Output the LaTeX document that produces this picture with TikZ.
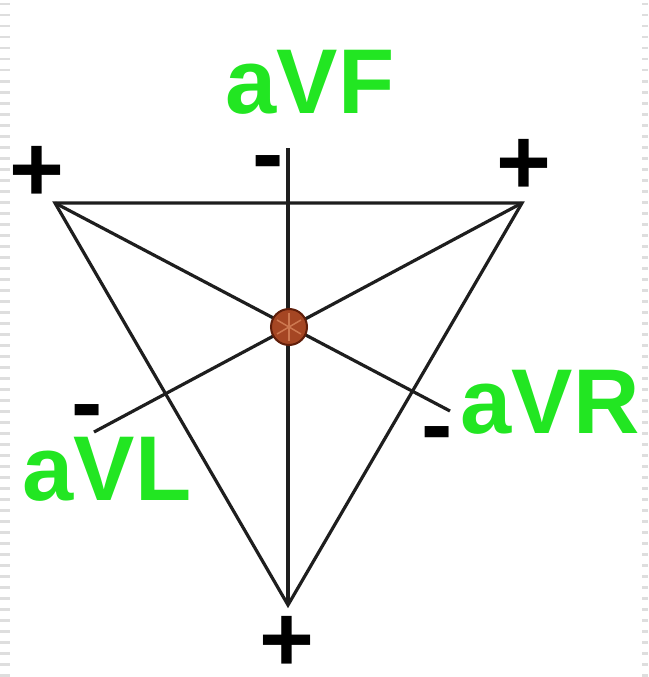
\documentclass[tikz,border=0pt]{standalone}
\usepackage{fontspec}
\usetikzlibrary{calc}
\setmainfont{Liberation Sans}
\newfontfamily\lblfont[Scale=1]{Liberation Sans Bold}
\definecolor{labgreen}{RGB}{34,230,34}
\definecolor{inkline}{RGB}{30,30,30}
\definecolor{brownfill}{RGB}{165,70,35}
\definecolor{brownedge}{RGB}{95,30,10}
\definecolor{brownspoke}{RGB}{205,120,80}
\definecolor{rulergrey}{RGB}{222,222,222}
\begin{document}
\begin{tikzpicture}[x=1pt,y=-1pt,
  ln/.style={line width=3.2pt, draw=inkline},
  lab/.style={font=\lblfont\fontsize{92}{92}\selectfont, text=labgreen, inner sep=0pt, anchor=base},
  sgn/.style={font=\lblfont\fontsize{94}{94}\selectfont, text=black, inner sep=0pt, anchor=center},
  ruler/.style={draw=rulergrey, dash pattern=on 2.5pt off 8.5pt}]
\useasboundingbox (0,0) rectangle (648,677);
% edge rulers
\draw[ruler, line width=10pt] (5,3) -- (5,677);
\draw[ruler, line width=6pt] (645,3) -- (645,677);
% points
\coordinate (TL) at (55,203);
\coordinate (TR) at (522,203);
\coordinate (B) at (288,605);
\coordinate (VT) at (288,148);
\coordinate (C) at (289,327);
\coordinate (RE) at (450,411);
\coordinate (LE) at (94,432);
% triangle and axes
\draw[ln, line join=miter] (TL) -- (TR) -- (B) -- cycle;
\draw[ln] (VT) -- (B);
\draw[ln] (TL) -- (RE);
\draw[ln] (TR) -- (LE);
% centre
\node[circle, minimum size=36pt, inner sep=0pt, fill=brownfill, draw=brownedge, line width=2pt] (ctr) at (C) {};
\draw[brownspoke, line width=1.5pt] ($(C)+(0,-14)$) -- ($(C)+(0,14)$);
\draw[brownspoke, line width=1.5pt] ($(C)+(-12,-7)$) -- ($(C)+(12,7)$);
\draw[brownspoke, line width=1.5pt] ($(C)+(12,-7)$) -- ($(C)+(-12,7)$);
% labels
\node[lab] (avf) at (310,113) {aVF};
\node[lab] (avr) at (550,433) {aVR};
\node[lab] (avl) at (107,500) {aVL};
% signs
\node[sgn] (ptl) at (37,174) {+};
\node[sgn] (ptr) at (524,167) {+};
\node[sgn] (pb) at (287,644) {+};
\node[sgn] (mf) at (268,171) {-};
\node[sgn] (mr) at (437,442) {-};
\node[sgn] (ml) at (87,420) {-};
\end{tikzpicture}
\end{document}
